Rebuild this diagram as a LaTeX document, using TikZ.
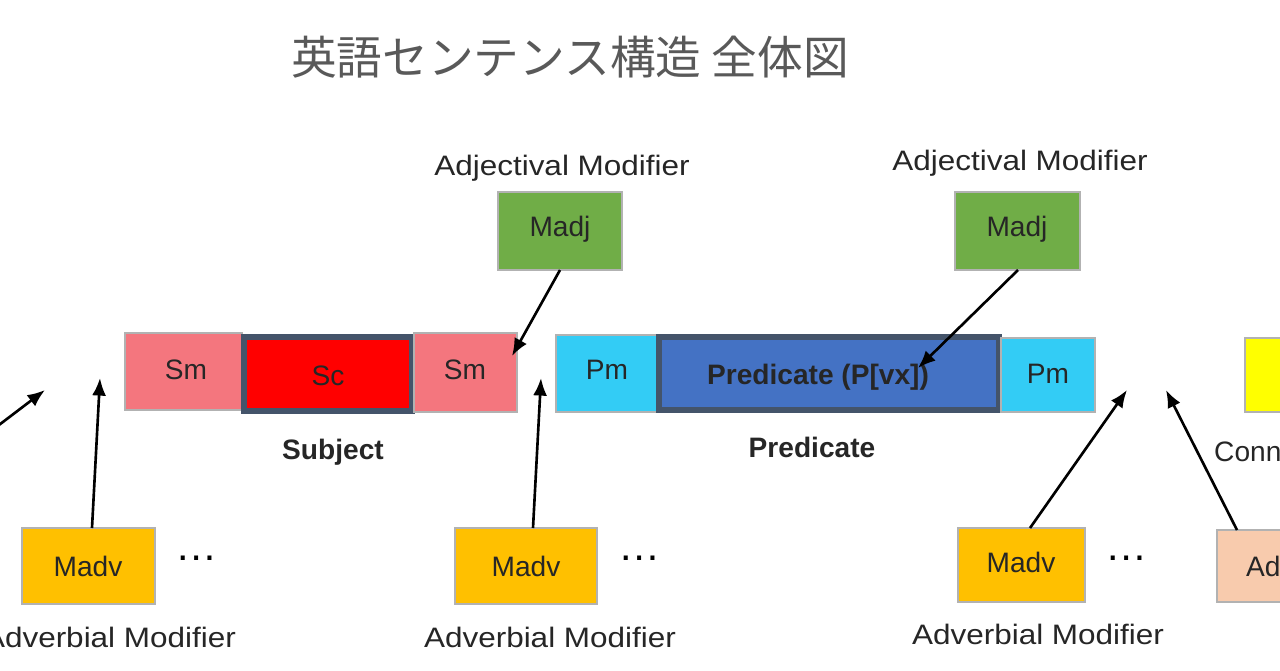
\documentclass[tikz,border=0pt]{standalone}
\usepackage{fontspec}
\setmainfont{Liberation Sans}
\newfontfamily\cjk{Noto Sans CJK JP}
\usetikzlibrary{arrows.meta}
\definecolor{pink1}{HTML}{F4767E}
\definecolor{red1}{HTML}{FF0000}
\definecolor{cyan1}{HTML}{33CCF5}
\definecolor{blue1}{HTML}{4472C4}
\definecolor{green1}{HTML}{70AD47}
\definecolor{orange1}{HTML}{FFC000}
\definecolor{peach}{HTML}{F8CBAD}
\definecolor{yel}{HTML}{FFFF00}
\definecolor{edge}{HTML}{44546A}
\tikzset{
 bx/.style={draw=gray!60,line width=1pt},
 thk/.style={draw=edge,line width=3pt},
 lbl/.style={font=\fontsize{16}{19}\selectfont,text=black!85},
 blbl/.style={font=\bfseries\fontsize{16}{19}\selectfont,text=black!85},
 wlbl/.style={lbl,xscale=1.12},
 arr/.style={-{Latex[length=10pt,width=8pt]},line width=1.5pt},
}
\begin{document}
\begin{tikzpicture}[x=0.02cm,y=-0.02cm]
\useasboundingbox (0,0) rectangle (1280,670);
\clip (0,0) rectangle (1280,670);
\node[text=black!65,font=\cjk\fontsize{26}{30}\selectfont] (title) at (570,57) {英語センテンス構造\ 全体図};
% subject
\draw[bx,fill=pink1] (125,333) rectangle (242,410);
\node[lbl] (sm1) at (186,370) {Sm};
\draw[thk,fill=red1] (244,337) rectangle (412,411);
\node[lbl] (sc) at (328,376) {Sc};
\draw[bx,fill=pink1] (414,333) rectangle (517,412);
\node[lbl] (sm2) at (465,370) {Sm};
\coordinate (sm2t) at (512,356);
\node[blbl] (subj) at (333,452) {Subject};
% predicate
\draw[bx,fill=cyan1] (556,335) rectangle (658,412);
\node[lbl] (pm1) at (607,370) {Pm};
\draw[thk,fill=blue1] (659,337) rectangle (999,410);
\node[blbl] (pred) at (818,377) {Predicate (P[vx])};
\draw[bx,fill=cyan1] (1001,338) rectangle (1095,412);
\node[lbl] (pm2) at (1048,374) {Pm};
\node[blbl] (predl) at (812,447) {Predicate};
\draw[bx,fill=yel] (1245,338) rectangle (1290,412);
\node[lbl,anchor=west] (conn) at (1208,452) {Conn};
% madj
\node[wlbl] (al1) at (562,168) {Adjectival Modifier};
\draw[bx,fill=green1] (498,192) rectangle (622,270);
\node[lbl] (madj1) at (560,229) {Madj};
\coordinate (madj1b) at (560,270);
\node[wlbl] (al2) at (1020,163) {Adjectival Modifier};
\draw[bx,fill=green1] (955,192) rectangle (1080,270);
\node[lbl] (madj2) at (1017,229) {Madj};
\coordinate (madj2b) at (1018,270);
\coordinate (pt2) at (918,368);
% madv
\draw[bx,fill=orange1] (22,528) rectangle (155,604);
\node[lbl] (madv1) at (88,566) {Madv};
\draw[bx,fill=orange1] (455,528) rectangle (597,604);
\node[lbl] (madv2) at (526,566) {Madv};
\draw[bx,fill=orange1] (958,528) rectangle (1085,602);
\node[lbl] (madv3) at (1021,562) {Madv};
\draw[bx,fill=peach] (1217,530) rectangle (1290,602);
\node[lbl,anchor=west] (adp) at (1240,566) {Ad};
\foreach \x in {197,640,1127}{\node[font=\fontsize{24}{24}\selectfont] at (\x,558) {\dots};}
\node[wlbl] (av1) at (110,637) {Adverbial Modifier};
\node[wlbl] (av2) at (550,637) {Adverbial Modifier};
\node[wlbl] (av3) at (1038,634) {Adverbial Modifier};
% arrows
\coordinate (o0) at (-5,428); \coordinate (e0) at (45,390);
\coordinate (s1) at (92,528); \coordinate (e1) at (100,378);
\coordinate (s2) at (533,528); \coordinate (e2) at (541,378);
\coordinate (s3) at (1030,528); \coordinate (e3) at (1127,390);
\coordinate (s4) at (1237,530); \coordinate (e4) at (1166,390);
\draw[arr] (o0) -- (e0);
\draw[arr] (s1) -- (e1);
\draw[arr] (madj1b) -- (sm2t);
\draw[arr] (s2) -- (e2);
\draw[arr] (madj2b) -- (pt2);
\draw[arr] (s3) -- (e3);
\draw[arr] (s4) -- (e4);
\end{tikzpicture}
\end{document}
